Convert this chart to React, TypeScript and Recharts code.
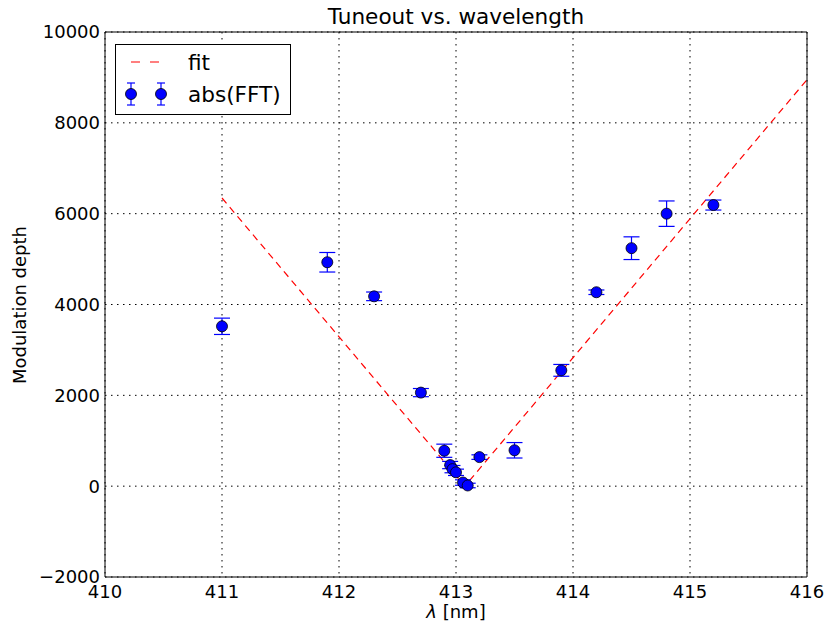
import {
  ComposedChart, Line, Scatter, ErrorBar, XAxis, YAxis, CartesianGrid,
} from "recharts";

// measured points: wavelength [nm], modulation depth, error
const wavelength = [411.0, 411.9, 412.3, 412.7, 412.9, 412.95, 412.97, 413.0, 413.06, 413.1, 413.2, 413.5, 413.9, 414.2, 414.5, 414.8, 415.2];
const depth = [3520, 4930, 4180, 2060, 780, 465, 375, 305, 80, 15, 640, 790, 2550, 4270, 5240, 6000, 6190];
const depthErr = [180, 215, 95, 90, 145, 80, 80, 70, 60, 50, 50, 170, 130, 50, 250, 280, 110];

// fit |a (x - x0)|, kink + end points
const fitX = [411.0, 413.076, 416.0];
const fitY = [6345, 0, 8950];

const xTicks = [410, 411, 412, 413, 414, 415, 416];
const yTicks = [-2000, 0, 2000, 4000, 6000, 8000, 10000];

const points = wavelength.map((x, i) => ({ x, y: depth[i], err: depthErr[i] }));
const fit = fitX.map((x, i) => ({ x, y: fitY[i] }));

const FONT = "'DejaVu Sans', sans-serif";
const fmtY = (v: number) => (v < 0 ? `\u2212${Math.abs(v)}` : `${v}`);

const Dot = (p: any) => (
  <circle cx={p.cx} cy={p.cy} r={5.5} fill="#0000ff" stroke="#000" strokeWidth={0.8} />
);

export default function App() {
  return (
    <div style={{ position: "absolute", left: 0, top: 0, width: 827, height: 626, background: "#fff", fontFamily: FONT }}>
      <div style={{ position: "absolute", left: 105, width: 702, top: 4, textAlign: "center", fontSize: 21.6, color: "#000" }}>
        Tuneout vs. wavelength
      </div>
      <div style={{ position: "absolute", left: 19, top: 305, transform: "translate(-50%, -50%) rotate(-90deg)", fontSize: 18, whiteSpace: "nowrap" }}>
        Modulation depth
      </div>

      <ComposedChart width={827} height={626} margin={{ top: 32, right: 20, bottom: 0, left: 0 }}>
        <CartesianGrid stroke="#000" strokeWidth={1} strokeDasharray="1.5 4.5" />
        <XAxis
          dataKey="x" type="number" domain={[410, 416]} ticks={xTicks} allowDataOverflow
          height={49} tickSize={0} tickMargin={8} axisLine={{ stroke: "#000" }}
          tick={{ fontSize: 18, fill: "#000", fontFamily: FONT }}
          label={{
            content: (p: any) => (
              <text x={p.viewBox.x + p.viewBox.width / 2} y={618} textAnchor="middle" fontSize={18} fontFamily={FONT} fill="#000">
                <tspan fontStyle="italic">λ</tspan> [nm]
              </text>
            ),
          }}
        />
        <YAxis
          type="number" domain={[-2000, 10000]} ticks={yTicks} allowDataOverflow
          width={105} tickSize={0} tickMargin={5} axisLine={{ stroke: "#000" }}
          tickFormatter={fmtY} tick={{ fontSize: 18, fill: "#000", fontFamily: FONT }}
        />
        {/* inward ticks + frame */}
        <XAxis xAxisId="b2" orientation="bottom" mirror type="number" domain={[410, 416]} ticks={xTicks} allowDataOverflow tick={false} tickSize={4} axisLine={false} tickLine={{ stroke: "#000" }} />
        <XAxis xAxisId="top" orientation="top" mirror type="number" domain={[410, 416]} ticks={xTicks} allowDataOverflow tick={false} tickSize={4} axisLine={{ stroke: "#000" }} tickLine={{ stroke: "#000" }} />
        <YAxis yAxisId="l2" orientation="left" mirror type="number" domain={[-2000, 10000]} ticks={yTicks} allowDataOverflow tick={false} tickSize={4} axisLine={false} tickLine={{ stroke: "#000" }} />
        <YAxis yAxisId="right" orientation="right" mirror type="number" domain={[-2000, 10000]} ticks={yTicks} allowDataOverflow tick={false} tickSize={4} axisLine={{ stroke: "#000" }} tickLine={{ stroke: "#000" }} />

        <Line data={fit} dataKey="y" type="linear" stroke="#ff0000" strokeWidth={1.2} strokeDasharray="7 5" dot={false} activeDot={false} isAnimationActive={false} />
        <Scatter data={points} dataKey="y" shape={Dot} isAnimationActive={false}>
          <ErrorBar dataKey="err" direction="y" width={8} stroke="#0000ff" strokeWidth={1.2} isAnimationActive={false} />
        </Scatter>
      </ComposedChart>

      <svg style={{ position: "absolute", left: 0, top: 0 }} width={827} height={626} pointerEvents="none">
        <rect x={115.5} y={44.5} width={175} height={70} fill="#fff" stroke="#000" strokeWidth={1} />
        <line x1={131} y1={62} x2={161} y2={62} stroke="#ff0000" strokeWidth={1.2} strokeDasharray="9 10" />
        <text x={188} y={70} fontSize={21.6} fontFamily={FONT} fill="#000">fit</text>
        {[131, 161].map((cx) => (
          <g key={cx}>
            <line x1={cx} y1={83} x2={cx} y2={105} stroke="#0000ff" strokeWidth={1.2} />
            <line x1={cx - 4} y1={83} x2={cx + 4} y2={83} stroke="#0000ff" strokeWidth={1.2} />
            <line x1={cx - 4} y1={105} x2={cx + 4} y2={105} stroke="#0000ff" strokeWidth={1.2} />
            <circle cx={cx} cy={94} r={5.5} fill="#0000ff" stroke="#000" strokeWidth={0.8} />
          </g>
        ))}
        <text x={188} y={102} fontSize={21.6} fontFamily={FONT} fill="#000">abs(FFT)</text>
      </svg>
    </div>
  );
}
